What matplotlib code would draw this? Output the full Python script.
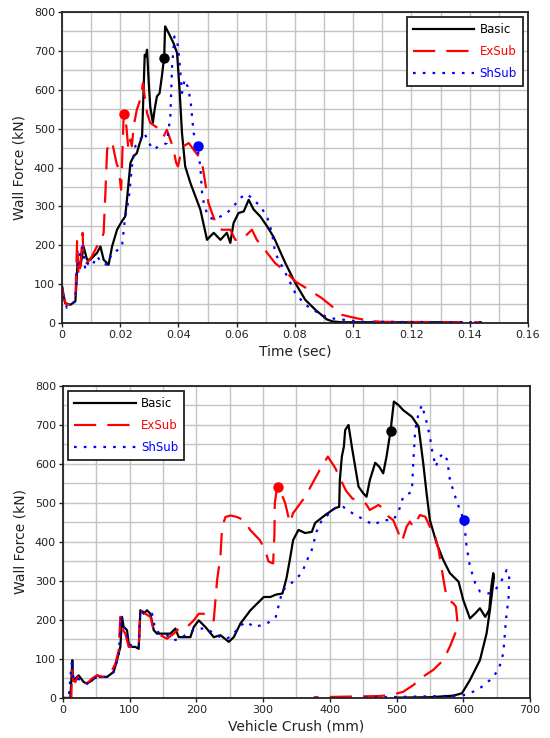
import matplotlib
matplotlib.use("Agg")
import matplotlib.pyplot as plt
from matplotlib.ticker import MultipleLocator, FuncFormatter

# ---- Wall force vs time (s, kN) ----
basic_t = [0, 0.0011, 0.0029, 0.0046, 0.0049, 0.0054, 0.0063, 0.0069, 0.0074, 0.0086,
           0.0097, 0.0120, 0.0132, 0.0143, 0.0160, 0.0172, 0.0189, 0.0206, 0.0217, 0.0223,
           0.0235, 0.0246, 0.0257, 0.0267, 0.0275, 0.0284, 0.0288, 0.0292, 0.0298, 0.0303,
           0.0312, 0.0318, 0.0326, 0.0335, 0.0343, 0.0351, 0.0354, 0.0360, 0.0372, 0.0383,
           0.0395, 0.0403, 0.0412, 0.0423, 0.0441, 0.0458, 0.0475, 0.0498, 0.0509, 0.0521,
           0.0544, 0.0566, 0.0578, 0.0589, 0.0606, 0.0624, 0.0641, 0.0658, 0.0681, 0.0704,
           0.0727, 0.0767, 0.0801, 0.0835, 0.0870, 0.0910, 0.0930, 0.0960, 0.1350]
basic_tf = [94, 51, 47, 56, 94, 163, 146, 172, 197, 163,
            163, 180, 197, 163, 150, 197, 240, 262, 274, 317,
            412, 429, 437, 463, 480, 690, 686, 703, 617, 557,
            515, 549, 583, 591, 635, 686, 763, 755, 737, 720,
            695, 609, 489, 403, 360, 326, 292, 214, 223, 232,
            214, 232, 206, 257, 283, 287, 317, 292, 274, 249,
            221, 154, 103, 60, 34, 9, 4, 2, 2]

exsub_t = [0, 0.0006, 0.0017, 0.0034, 0.0046, 0.0049, 0.0052, 0.0057, 0.0063, 0.0071,
           0.0074, 0.0086, 0.0103, 0.0120, 0.0132, 0.0143, 0.0149, 0.0155, 0.0164, 0.0175,
           0.0187, 0.0195, 0.0203, 0.0207, 0.0212, 0.0221, 0.0228, 0.0235, 0.0240, 0.0246,
           0.0257, 0.0269, 0.0278, 0.0284, 0.0292, 0.0303, 0.0320, 0.0338, 0.0349, 0.0360,
           0.0372, 0.0383, 0.0392, 0.0398, 0.0406, 0.0418, 0.0435, 0.0452, 0.0469, 0.0481,
           0.0492, 0.0503, 0.0515, 0.0532, 0.0549, 0.0578, 0.0595, 0.0612, 0.0629, 0.0652,
           0.0669, 0.0692, 0.0709, 0.0732, 0.0767, 0.0801, 0.0847, 0.0892, 0.0927, 0.0961,
           0.1007, 0.1053, 0.1098, 0.1442]
exsub_tf = [94, 60, 47, 51, 60, 137, 214, 120, 146, 232,
            163, 154, 172, 197, 206, 232, 334, 446, 467, 455,
            412, 395, 343, 429, 540, 506, 446, 472, 455, 506,
            549, 575, 617, 583, 540, 515, 506, 497, 480, 497,
            472, 446, 412, 403, 429, 455, 463, 446, 429, 412,
            360, 309, 283, 249, 240, 240, 214, 214, 223, 240,
            214, 193, 176, 154, 133, 107, 86, 64, 43, 21,
            13, 6, 3, 2]

shsub_t = [0, 0.0006, 0.0017, 0.0034, 0.0046, 0.0052, 0.0057, 0.0069, 0.0074, 0.0080,
           0.0088, 0.0103, 0.0120, 0.0137, 0.0155, 0.0172, 0.0195, 0.0206, 0.0217, 0.0229,
           0.0240, 0.0252, 0.0269, 0.0283, 0.0298, 0.0315, 0.0332, 0.0349, 0.0360, 0.0372,
           0.0378, 0.0386, 0.0395, 0.0403, 0.0412, 0.0421, 0.0431, 0.0441, 0.0452, 0.0463,
           0.0475, 0.0481, 0.0489, 0.0503, 0.0521, 0.0544, 0.0566, 0.0589, 0.0612, 0.0635,
           0.0658, 0.0681, 0.0704, 0.0721, 0.0732, 0.0767, 0.0801, 0.0835, 0.0880, 0.0915,
           0.0960, 0.1030, 0.1440]
shsub_tf = [94, 60, 39, 47, 60, 146, 163, 197, 180, 137,
            154, 146, 172, 154, 150, 180, 189, 197, 274, 317,
            403, 455, 472, 489, 463, 446, 455, 459, 463, 532,
            660, 737, 729, 677, 592, 626, 609, 575, 489, 460,
            403, 334, 300, 274, 266, 274, 283, 300, 322, 332,
            317, 300, 274, 232, 180, 129, 77, 47, 26, 13,
            9, 3, 2]

# reference points marked on each time history
mark_t = [0.0349, 0.0214, 0.0466]
mark_tf = [683, 537, 456]

# ---- Wall force vs vehicle crush (mm, kN) ----
basic_c = [0, 11, 12.5, 14, 15, 18.5, 23.5, 31, 36, 43.5,
           51, 56, 66, 76, 81, 86, 88.5, 91, 96, 98.5,
           103.5, 108.5, 113.5, 116, 121, 126, 131, 136, 141, 151,
           161, 168.5, 173.5, 181, 191, 196, 203.5, 213.5, 226, 236,
           248.5, 256, 266, 273.5, 281, 291, 301, 311, 319, 329,
           335, 340, 345, 353, 363, 373, 378, 393, 408, 414,
           415, 418, 421, 423, 428, 433, 438, 443, 450, 455,
           460, 468, 474, 480, 485, 491, 496, 503, 510, 523,
           533, 540, 545, 550, 560, 570, 580, 593, 600, 610,
           618, 625, 633, 639, 642, 645, 646, 640, 635, 625,
           610, 598, 585, 550, 500]
basic_cf = [0, 0, 45, 97, 45, 50, 58, 41, 37, 45,
            58, 54, 54, 67, 97, 131, 208, 182, 174, 139,
            131, 131, 126, 225, 216, 225, 216, 174, 165, 165,
            165, 178, 156, 156, 156, 182, 199, 182, 156, 161,
            144, 156, 191, 208, 225, 242, 259, 259, 265, 268,
            307, 354, 405, 431, 423, 426, 449, 469, 487, 490,
            559, 619, 644, 687, 700, 644, 593, 542, 525, 516,
            559, 603, 593, 576, 619, 685, 760, 751, 738, 721,
            696, 602, 525, 456, 397, 354, 320, 298, 251, 204,
            217, 230, 208, 226, 285, 320, 310, 226, 166, 97,
            46, 12, 6, 2, 1]

exsub_c = [0, 12.5, 13.5, 15, 18.5, 23.5, 28.5, 36, 43.5, 51,
           61, 71, 78.5, 83.5, 86, 90, 93.5, 98.5, 106, 113.5,
           116, 123.5, 131, 136, 146, 156, 166, 176, 186, 196,
           203.5, 211, 218.5, 226, 231, 236, 238.5, 243.5, 251, 261,
           271, 281, 295, 303, 308, 315, 317, 317.5, 320, 322,
           326, 333, 340, 345, 363, 385, 397, 408, 419, 424,
           434, 444, 454, 460, 473, 480, 488, 495, 500, 508,
           515, 520, 525, 535, 543, 550, 558, 563, 568, 573,
           578, 585, 589, 591, 588, 580, 570, 555, 540, 525,
           510, 495, 475, 376]
exsub_cf = [0, 0, 71, 45, 41, 58, 45, 37, 50, 58,
            54, 62, 88, 122, 208, 174, 165, 131, 131, 131,
            225, 216, 208, 174, 161, 152, 165, 182, 182, 199,
            216, 216, 199, 199, 302, 362, 438, 464, 468, 464,
            456, 430, 405, 380, 350, 345, 422, 499, 530, 542,
            530, 500, 449, 474, 516, 585, 619, 590, 550, 532,
            511, 507, 498, 482, 495, 486, 465, 456, 435, 401,
            439, 452, 439, 469, 465, 439, 414, 380, 328, 277,
            251, 243, 234, 200, 166, 132, 97, 72, 55, 33,
            16, 9, 5, 2]

shsub_c = [0, 8.5, 12, 13.5, 16, 21, 28.5, 36, 46, 56,
           66, 76, 83.5, 87, 90, 95, 98.5, 106, 113.5, 116,
           126, 133.5, 138.5, 146, 156, 166, 176, 186, 196, 206,
           216, 226, 236, 246, 256, 266, 276, 286, 296, 306,
           319, 329, 341.5, 358, 365, 373, 380, 388, 400, 410,
           420, 438, 453, 465, 480, 495, 503, 510, 523, 525,
           528, 533, 538, 545, 550, 554, 559, 563, 570, 576,
           580, 588, 595, 601, 605, 610, 618, 625, 638, 648,
           658, 665, 669, 668, 664, 660, 653, 640, 625, 610,
           598, 450]
shsub_cf = [0, 0, 71, 97, 45, 50, 45, 37, 50, 54,
            54, 67, 109, 208, 182, 178, 139, 131, 131, 225,
            216, 216, 174, 165, 161, 148, 152, 165, 174, 178,
            178, 165, 156, 152, 165, 186, 195, 182, 186, 191,
            208, 276, 293, 320, 350, 380, 426, 456, 474, 490,
            490, 469, 456, 444, 456, 456, 478, 516, 529, 602,
            687, 730, 751, 708, 670, 627, 593, 615, 627, 610,
            559, 516, 482, 456, 388, 337, 294, 273, 268, 277,
            303, 328, 320, 260, 200, 115, 72, 46, 25, 12,
            6, 1]

mark_c = [491, 322, 601]
mark_cf = [685, 540, 456]

series_names = ["Basic", "ExSub", "ShSub"]
colors = ["#000000", "#ff0000", "#0000ff"]

LW = 1.6
styles = [dict(linestyle="-"),
          dict(linestyle=(0, (10, 5))),
          dict(linestyle=(0, (1.2, 3.2)))]

plt.rcParams["font.family"] = ["DejaVu Sans"]

fig = plt.figure(figsize=(5.5, 7.38), dpi=100)
ax1 = fig.add_axes([0.1127, 0.5623, 0.8473, 0.4214])
ax2 = fig.add_axes([0.1145, 0.0542, 0.8491, 0.4228])


def style_axes(ax, xmax, xmajor, xminor, xlabel, fmt):
    ax.set_xlim(0, xmax)
    ax.set_ylim(0, 800)
    ax.xaxis.set_major_locator(MultipleLocator(xmajor))
    ax.xaxis.set_minor_locator(MultipleLocator(xminor))
    ax.yaxis.set_major_locator(MultipleLocator(100))
    ax.yaxis.set_minor_locator(MultipleLocator(50))
    ax.xaxis.set_major_formatter(FuncFormatter(fmt))
    ax.grid(True, which="both", color="#c4c4c4", linewidth=1.0)
    ax.set_axisbelow(True)
    ax.tick_params(which="major", length=3, width=1, color="#222222",
                   labelsize=8, labelcolor="#222222", pad=2)
    ax.tick_params(which="minor", length=0)
    for sp in ax.spines.values():
        sp.set_linewidth(1.3)
        sp.set_color("#222222")
    ax.set_xlabel(xlabel, fontsize=10, color="#222222", labelpad=3)
    ax.set_ylabel("Wall Force (kN)", fontsize=10, color="#222222", labelpad=5)


style_axes(ax1, 0.16, 0.02, 0.01, "Time (sec)", lambda v, p: "%g" % round(v, 3))
style_axes(ax2, 700, 100, 50, "Vehicle Crush (mm)", lambda v, p: "%d" % v)

top = [(basic_t, basic_tf), (exsub_t, exsub_tf), (shsub_t, shsub_tf)]
bottom = [(basic_c, basic_cf), (exsub_c, exsub_cf), (shsub_c, shsub_cf)]

for ax, data, mx, my in [(ax1, top, mark_t, mark_tf), (ax2, bottom, mark_c, mark_cf)]:
    handles = []
    for (x, y), name, col, st in zip(data, series_names, colors, styles):
        h, = ax.plot(x, y, color=col, linewidth=LW, label=name, **st)
        handles.append(h)
    for xm, ym, col in zip(mx, my, colors):
        ax.plot([xm], [ym], "o", color=col, markersize=6.5, zorder=5)
    loc = "upper right" if ax is ax1 else "upper left"
    leg = ax.legend(handles=handles, loc=loc, fontsize=8.5, frameon=True,
                    fancybox=False, framealpha=1, edgecolor="#222222",
                    handlelength=5.2, handletextpad=0.45, labelspacing=0.75,
                    borderpad=0.5, borderaxespad=0.45)
    leg.get_frame().set_linewidth(1.3)
    for txt, col in zip(leg.get_texts(), colors):
        txt.set_color(col)

fig.savefig("out.png", dpi=100)
